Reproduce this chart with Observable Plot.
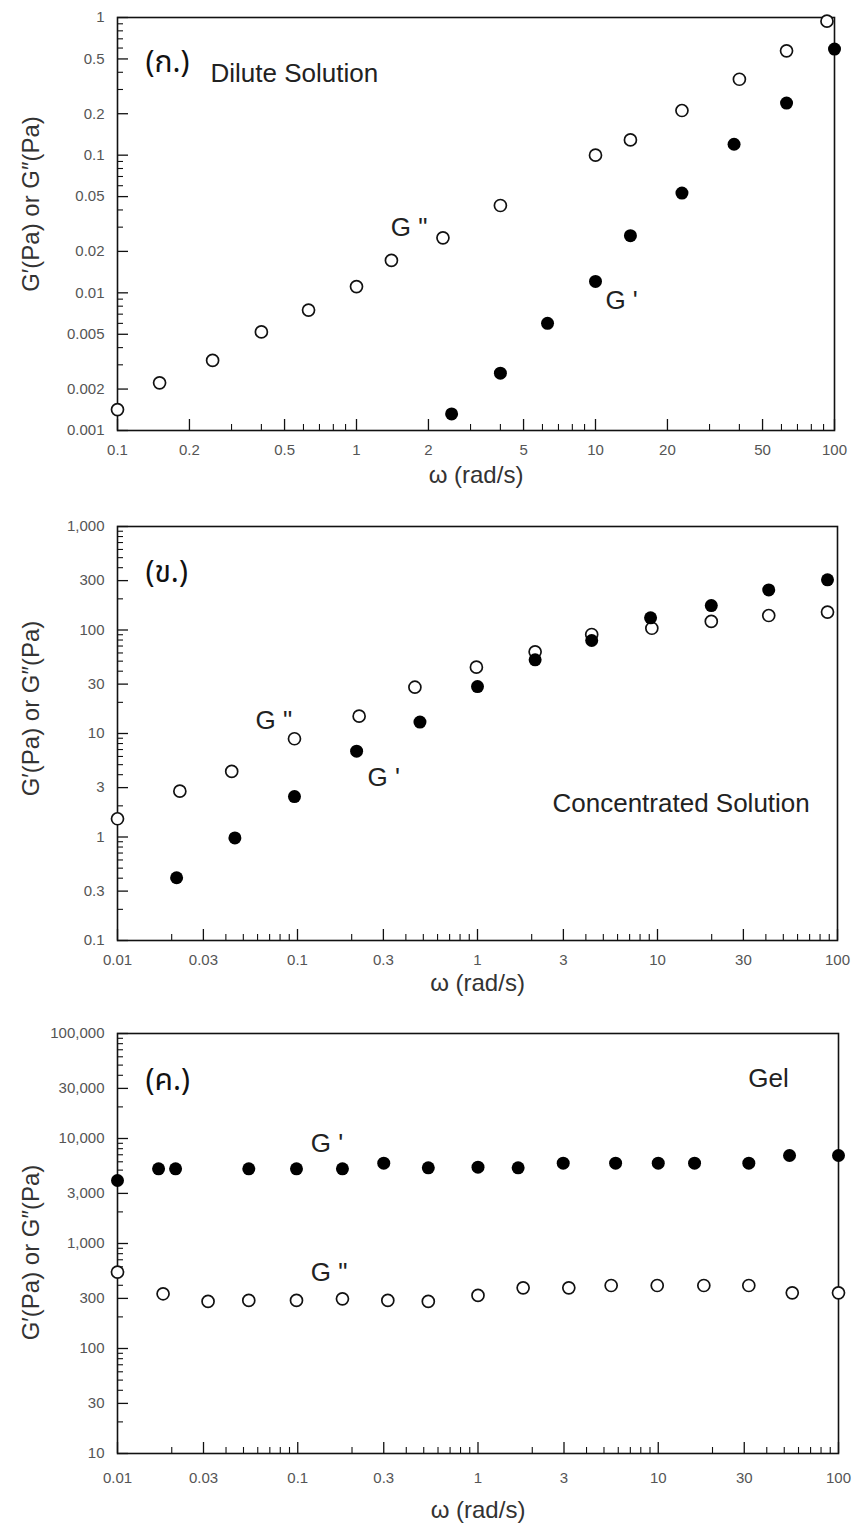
<!DOCTYPE html>
<html><head><meta charset="utf-8">
<script src="https://cdn.jsdelivr.net/npm/d3@7"></script>
<script src="https://cdn.jsdelivr.net/npm/@observablehq/plot@0.6"></script>
<style>
body{margin:0;background:#fff;}
#chart{position:relative;width:855px;height:1533px;overflow:hidden;}
#chart svg{position:absolute;left:0;display:block;overflow:visible;}
</style></head><body><div id="chart"></div>
<script>
// ---------- Panel (ก.) Dilute solution ----------
const omegaA_open = [0.1, 0.15, 0.25, 0.4, 0.63, 1, 1.4, 2.3, 4, 10, 14, 23, 40, 63, 93];
const gppA        = [0.00142, 0.00222, 0.00323, 0.0052, 0.0075, 0.0111, 0.0172, 0.0251, 0.0431, 0.1, 0.129, 0.211, 0.356, 0.573, 0.94];
const omegaA_fill = [2.5, 4, 6.3, 10, 14, 23, 38, 63, 100];
const gpA         = [0.00132, 0.00261, 0.006, 0.0121, 0.026, 0.053, 0.12, 0.239, 0.59];
const xTicksA = [0.1, 0.2, 0.5, 1, 2, 5, 10, 20, 50, 100];
const yTicksA = [0.001, 0.002, 0.005, 0.01, 0.02, 0.05, 0.1, 0.2, 0.5, 1];
const notesA = [
  {text: "(ก.)", x: 0.131, y: 0.47, thai: true},
  {text: "Dilute Solution", x: 0.245, y: 0.39},
  {text: "G \"", x: 1.39, y: 0.0299},
  {text: "G '", x: 11.0, y: 0.0088}
];

// ---------- Panel (ข.) Concentrated solution ----------
const omegaB_open = [0.01, 0.0222, 0.0431, 0.0962, 0.22, 0.449, 0.986, 2.09, 4.31, 9.3, 19.9, 41.5, 88];
const gppB        = [1.5, 2.77, 4.3, 8.9, 14.7, 28, 43.7, 61.5, 90.5, 104, 121, 138, 149];
const omegaB_fill = [0.0213, 0.0449, 0.0962, 0.213, 0.479, 1, 2.09, 4.31, 9.15, 19.9, 41.5, 88];
const gpB         = [0.404, 0.98, 2.46, 6.75, 12.9, 28.4, 51.5, 79.2, 131, 172, 244, 305];
const xTicksB = [0.01, 0.03, 0.1, 0.3, 1, 3, 10, 30, 100];
const yTicksB = [0.1, 0.3, 1, 3, 10, 30, 100, 300, 1000];
const notesB = [
  {text: "(ข.)", x: 0.0143, y: 360, thai: true},
  {text: "G \"", x: 0.0585, y: 13.4},
  {text: "G '", x: 0.245, y: 3.76},
  {text: "Concentrated Solution", x: 2.61, y: 2.11}
];

// ---------- Panel (ค.) Gel ----------
const omegaC_open = [0.01, 0.0179, 0.0318, 0.0535, 0.0984, 0.177, 0.316, 0.53, 1, 1.78, 3.19, 5.48, 9.87, 17.9, 31.8, 55.4, 100];
const gppC        = [533, 332, 281, 287, 287, 297, 287, 281, 320, 378, 378, 398, 398, 398, 398, 339, 339];
const omegaC_fill = [0.01, 0.0169, 0.021, 0.0535, 0.0984, 0.177, 0.30, 0.53, 1, 1.67, 2.97, 5.8, 10, 15.9, 31.8, 53.5, 100];
const gpC         = [3981, 5143, 5143, 5143, 5143, 5143, 5820, 5260, 5330, 5260, 5820, 5820, 5820, 5820, 5820, 6890, 6890];
const xTicksC = [0.01, 0.03, 0.1, 0.3, 1, 3, 10, 30, 100];
const yTicksC = [10, 30, 100, 300, 1000, 3000, 10000, 30000, 100000];
const notesC = [
  {text: "(ค.)", x: 0.0143, y: 35650, thai: true},
  {text: "G '", x: 0.118, y: 8960},
  {text: "G \"", x: 0.118, y: 530},
  {text: "Gel", x: 31.6, y: 37250}
];

const yTitle = "G′(Pa) or G″(Pa)";
const xTitle = "ω (rad/s)";

const FONT = "'Liberation Sans', Arial, Helvetica, sans-serif";
const THAI = "'Noto Sans Thai', 'Noto Serif Thai', 'Tlwg Typo', Garuda, 'DejaVu Sans', sans-serif";
const fmt = d3.format(",");

function minorTicks([a, b], majors) {
  const out = [];
  for (let k = Math.floor(Math.log10(a)); k < Math.ceil(Math.log10(b)); k++) {
    for (let m = 1; m <= 9; m++) {
      const v = m * Math.pow(10, k);
      if (v < a * 0.999 || v > b * 1.001) continue;
      if (majors.some(t => Math.abs(t - v) / v < 1e-6)) continue;
      out.push(v);
    }
  }
  return out;
}

function panel(cfg) {
  const {xDomain, yDomain, xTicks, yTicks, ox, oy, fx, fy, notes, top,
         width = 855, height, marginTop, marginRight, marginBottom, marginLeft = 117,
         xPad = 20, xTitleDy, yTitleDy} = cfg;
  const H = height - marginTop - marginBottom;
  const W = width - marginLeft - marginRight;
  const openData = ox.map((x, i) => ({x, y: oy[i]}));
  const fillData = fx.map((x, i) => ({x, y: fy[i]}));
  const xMinor = minorTicks(xDomain, xTicks);
  const yMinor = minorTicks(yDomain, yTicks);
  const svg = Plot.plot({
    width, height, marginTop, marginRight, marginBottom, marginLeft,
    style: {fontFamily: FONT, fontSize: "15px", background: "transparent"},
    x: {type: "log", domain: xDomain, label: null, axis: null},
    y: {type: "log", domain: yDomain, label: null, axis: null},
    marks: [
      Plot.tickX(xTicks, {x: d => d, insetTop: H - 11, stroke: "#111", strokeWidth: 1.3}),
      Plot.tickX(xMinor, {x: d => d, insetTop: H - 6, stroke: "#111", strokeWidth: 1.1}),
      Plot.tickY(yTicks, {y: d => d, insetRight: W - 11, stroke: "#111", strokeWidth: 1.3}),
      Plot.tickY(yMinor, {y: d => d, insetRight: W - 6, stroke: "#111", strokeWidth: 1.1}),
      Plot.text(xTicks, {x: d => d, text: d => fmt(d), frameAnchor: "bottom", textAnchor: "middle", lineAnchor: "middle", dy: xPad, fontSize: 15, fill: "#555"}),
      Plot.text(yTicks, {y: d => d, text: d => fmt(d), frameAnchor: "left", textAnchor: "end", lineAnchor: "middle", dx: -13, fontSize: 15, fill: "#555"}),
      Plot.frame({stroke: "#111", strokeWidth: 1.6}),
      Plot.dot(openData, {x: "x", y: "y", r: 6, stroke: "#111", strokeWidth: 1.7, fill: "white"}),
      Plot.dot(fillData, {x: "x", y: "y", r: 6.5, fill: "#000", stroke: "none"}),
      Plot.text(notes.filter(d => !d.thai), {x: "x", y: "y", text: "text", textAnchor: "start", fontSize: 26, fill: "#222", fontFamily: FONT}),
      Plot.text(notes.filter(d => d.thai), {x: "x", y: "y", text: "text", textAnchor: "start", fontSize: 30, fill: "#111", fontFamily: THAI}),
      Plot.text([yTitle], {frameAnchor: "left", textAnchor: "middle", rotate: -90, dx: -86, dy: yTitleDy, fontSize: 24, fill: "#333", fontFamily: FONT}),
      Plot.text([xTitle], {frameAnchor: "bottom", textAnchor: "middle", dy: xTitleDy, fontSize: 24, fill: "#333", fontFamily: FONT})
    ]
  });
  svg.style.top = top + "px";
  return svg;
}

const chart = document.getElementById("chart");
chart.appendChild(panel({
  xDomain: [0.1, 100], yDomain: [0.001, 1], xTicks: xTicksA, yTicks: yTicksA,
  ox: omegaA_open, oy: gppA, fx: omegaA_fill, fy: gpA, notes: notesA,
  top: 0, height: 485, marginTop: 17, marginBottom: 55, marginRight: 21,
  xTitleDy: 52, yTitleDy: -20
}));
chart.appendChild(panel({
  xDomain: [0.01, 100], yDomain: [0.1, 1000], xTicks: xTicksB, yTicks: yTicksB,
  ox: omegaB_open, oy: gppB, fx: omegaB_fill, fy: gpB, notes: notesB,
  top: 485, height: 515, marginTop: 41, marginBottom: 60, marginRight: 18,
  xTitleDy: 50, yTitleDy: -25
}));
chart.appendChild(panel({
  xDomain: [0.01, 100], yDomain: [10, 100000], xTicks: xTicksC, yTicks: yTicksC,
  ox: omegaC_open, oy: gppC, fx: omegaC_fill, fy: gpC, notes: notesC,
  top: 1000, height: 533, marginTop: 33, marginBottom: 80, marginRight: 17,
  xPad: 25, xTitleDy: 64, yTitleDy: 9
}));
</script></body></html>
